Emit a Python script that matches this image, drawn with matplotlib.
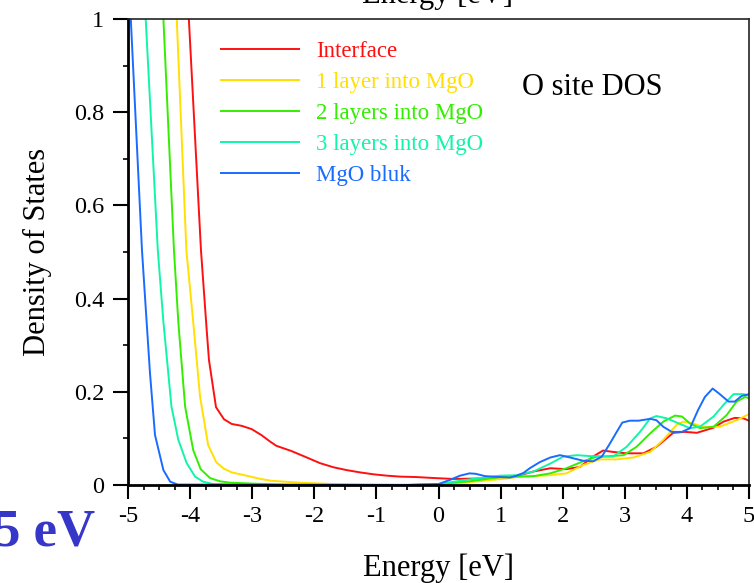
"""O site DOS across the Fe/MgO interface, layer by layer into MgO."""

import matplotlib
matplotlib.use("Agg")
import matplotlib.pyplot as plt
from matplotlib.ticker import MultipleLocator

plt.rcParams["font.family"] = ["Liberation Serif", "DejaVu Serif"]

# --- data (energy in eV, DOS in states/eV) ---
e_interface = [-4.08, -4.02, -3.825, -3.733, -3.696, -3.583, -3.454, -3.33, -3.17, -3.01,
               -2.85, -2.71, -2.61, -2.37, -2.12, -1.91, -1.69, -1.48, -1.26, -1.05,
               -0.83, -0.62, -0.35, -0.08, 0.24, 0.72, 1.26, 1.53, 1.80, 2.06,
               2.28, 2.49, 2.65, 2.81, 3.03, 3.30, 3.51, 3.78, 3.97, 4.16,
               4.43, 4.59, 4.77, 4.91, 5.0]
dos_interface = [1.15, 1.0, 0.504, 0.333, 0.268, 0.167, 0.141, 0.131, 0.127, 0.120,
                 0.107, 0.093, 0.084, 0.073, 0.059, 0.047, 0.038, 0.032, 0.027, 0.023,
                 0.020, 0.018, 0.017, 0.015, 0.013, 0.014, 0.019, 0.029, 0.036, 0.034,
                 0.039, 0.061, 0.074, 0.071, 0.068, 0.068, 0.082, 0.112, 0.114, 0.112,
                 0.123, 0.136, 0.144, 0.143, 0.138]

e_layer1 = [-4.28, -4.215, -4.06, -3.95, -3.84, -3.71, -3.58, -3.455, -3.33, -3.09,
            -2.90, -2.69, -2.23, -1.70, -1.0, 0.0, 0.56, 1.10, 1.26, 1.80,
            2.06, 2.33, 2.60, 2.87, 3.14, 3.41, 3.62, 3.835, 3.94, 4.10,
            4.27, 4.53, 4.80, 5.0]
dos_layer1 = [1.16, 1.0, 0.504, 0.35, 0.19, 0.086, 0.049, 0.035, 0.027, 0.020,
              0.014, 0.009, 0.005, 0.002, 0.001, 0.001, 0.007, 0.014, 0.017, 0.021,
              0.025, 0.043, 0.055, 0.055, 0.059, 0.071, 0.097, 0.129, 0.136, 0.132,
              0.124, 0.125, 0.139, 0.152]

e_layer2 = [-4.5, -4.43, -4.26, -4.19, -4.08, -3.95, -3.83, -3.68, -3.52, -3.36,
            -3.0, -2.5, -0.5, 0.0, 0.5, 0.99, 1.53, 1.80, 2.06, 2.33,
            2.55, 2.76, 2.98, 3.19, 3.41, 3.62, 3.81, 3.92, 4.05, 4.21,
            4.43, 4.64, 4.80, 4.94, 5.0]
dos_layer2 = [1.18, 1.0, 0.504, 0.35, 0.168, 0.075, 0.034, 0.015, 0.008, 0.005,
              0.003, 0.001, 0.0, 0.002, 0.008, 0.017, 0.019, 0.025, 0.036, 0.051,
              0.061, 0.062, 0.064, 0.082, 0.111, 0.136, 0.149, 0.147, 0.132, 0.122,
              0.125, 0.150, 0.179, 0.189, 0.186]

e_layer3 = [-4.78, -4.715, -4.52, -4.43, -4.30, -4.19, -4.055, -3.92, -3.79, -3.63,
            -3.0, -0.5, 0.0, 0.5, 0.99, 1.26, 1.53, 1.80, 2.01, 2.23,
            2.44, 2.65, 2.81, 3.03, 3.245, 3.41, 3.51, 3.675, 3.89, 4.05,
            4.21, 4.43, 4.59, 4.75, 4.91, 5.0]
dos_layer3 = [1.17, 1.0, 0.504, 0.35, 0.168, 0.097, 0.047, 0.018, 0.007, 0.002,
              0.0, 0.0, 0.002, 0.012, 0.020, 0.021, 0.029, 0.046, 0.061, 0.064,
              0.062, 0.061, 0.061, 0.082, 0.114, 0.143, 0.148, 0.143, 0.131, 0.122,
              0.125, 0.147, 0.172, 0.195, 0.195, 0.192]

e_bulk = [-5.0, -4.955, -4.775, -4.70, -4.646, -4.565, -4.43, -4.32, -4.2, -0.5,
          0.0, 0.185, 0.346, 0.5, 0.6, 0.75, 0.99, 1.15, 1.26, 1.37,
          1.47, 1.63, 1.80, 1.956, 2.12, 2.33, 2.49, 2.63, 2.76, 2.87,
          2.96, 3.08, 3.22, 3.41, 3.51, 3.62, 3.755, 3.92, 4.05, 4.18,
          4.29, 4.415, 4.53, 4.67, 4.77, 4.88, 5.0]
dos_bulk = [1.13, 1.0, 0.504, 0.35, 0.24, 0.107, 0.032, 0.007, 0.001, 0.0,
            0.002, 0.011, 0.020, 0.025, 0.024, 0.019, 0.017, 0.016, 0.020, 0.026,
            0.036, 0.049, 0.059, 0.064, 0.059, 0.052, 0.051, 0.061, 0.089, 0.114,
            0.134, 0.138, 0.138, 0.142, 0.139, 0.125, 0.114, 0.114, 0.122, 0.161,
            0.189, 0.207, 0.195, 0.179, 0.179, 0.191, 0.195]

SERIES = [
    ("Interface", e_interface, dos_interface, "#ff1010"),
    ("1 layer into MgO", e_layer1, dos_layer1, "#ffe000"),
    ("2 layers into MgO", e_layer2, dos_layer2, "#33ee00"),
    ("3 layers into MgO", e_layer3, dos_layer3, "#11f5a8"),
    ("MgO bluk", e_bulk, dos_bulk, "#1a6bff"),
]

fig = plt.figure(figsize=(7.54, 5.83), dpi=100)
ax = fig.add_axes([128 / 754, 98 / 583, 621 / 754, 466 / 583])

for label, e, dos, color in SERIES:
    ax.plot(e, dos, color=color, linewidth=1.4, label=label)

ax.set_xlim(-5, 5)
ax.set_ylim(0, 1)
ax.xaxis.set_major_locator(MultipleLocator(1))
ax.xaxis.set_minor_locator(MultipleLocator(0.25))
ax.yaxis.set_major_locator(MultipleLocator(0.2))
ax.yaxis.set_minor_locator(MultipleLocator(0.1))
ax.set_xticklabels([f"{v:g}" for v in ax.get_xticks()])
ax.set_yticklabels([f"{v:g}" for v in ax.get_yticks()])

ax.tick_params(which="both", direction="out", top=False, right=False, labelsize=17.5)
ax.tick_params(axis="y", which="major", length=11, width=1.5, pad=6)
ax.tick_params(axis="x", which="major", length=10, width=1.5, pad=5)
ax.tick_params(which="minor", length=3.8, width=1.2)
for side in ("left", "bottom"):
    ax.spines[side].set_linewidth(2.0)
for side in ("top", "right"):
    ax.spines[side].set_linewidth(1.2)
    ax.spines[side].set_color("#222222")

ax.set_xlabel("Energy [eV]", fontsize=22, labelpad=19)
ax.set_ylabel("Density of States", fontsize=22, labelpad=16)

leg = ax.legend(loc="upper left", bbox_to_anchor=(0.1355, 0.972), frameon=False,
                fontsize=16.5, handlelength=3.4, handletextpad=0.75,
                labelspacing=0.43, borderaxespad=0, labelcolor="linecolor")

ax.text(0.6345, 0.854, "O site DOS", transform=ax.transAxes, fontsize=22,
        ha="left", va="center")

# pieces of the neighbouring panels that show in the crop
fig.text(438 / 754, 1 - 3 / 583, "Energy [eV]", fontsize=22, ha="center", va="baseline")
fig.text(95 / 754, 1 - 545 / 583, "5 eV", fontsize=38, fontweight="bold",
         color="#3636c8", ha="right", va="baseline")

fig.savefig("out.png", dpi=100)
